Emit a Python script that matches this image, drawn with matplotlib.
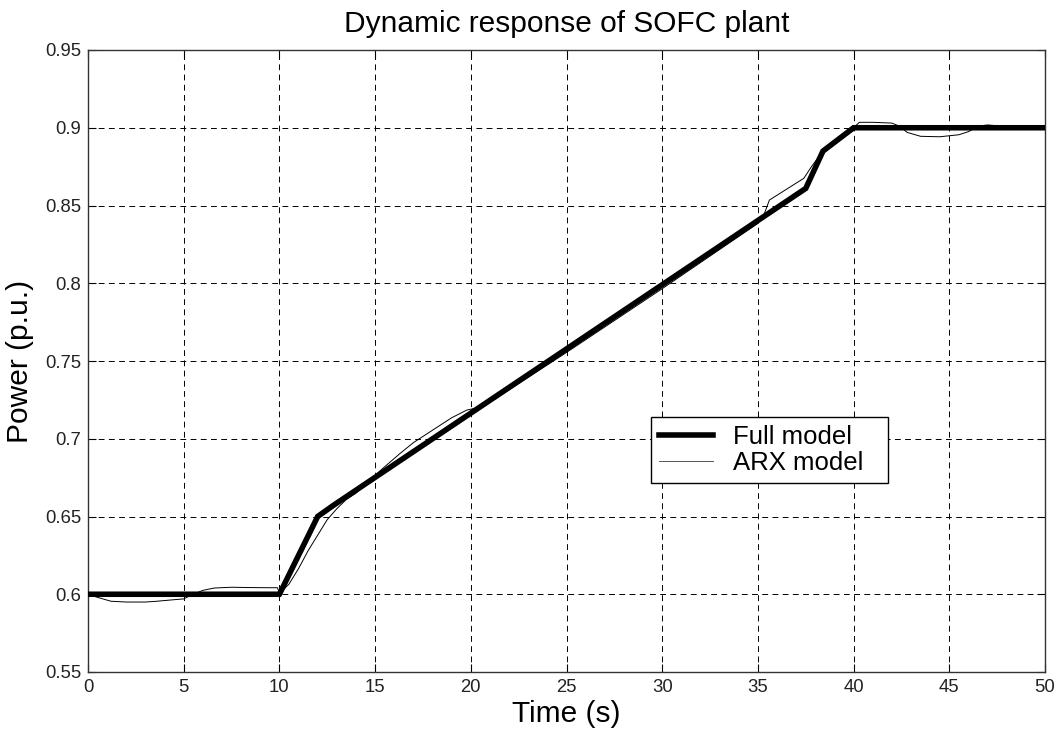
import matplotlib
matplotlib.use("Agg")
import matplotlib.pyplot as plt

plt.rcParams['font.family'] = ['Liberation Sans', 'DejaVu Sans']

# Full model (piecewise ramp)
full_t = [0, 10, 12, 12.8, 37.5, 38.4, 40, 50]
full_p = [0.6, 0.6, 0.65, 0.657, 0.861, 0.885, 0.9, 0.9]

# ARX model (identified response)
arx_t = [0, 0.5, 1.2, 2.0, 3.0, 3.6, 4.5, 5.0, 5.4, 6.0, 6.6, 7.5, 8.5, 9.5, 9.9, 10.0,
         10.5, 11.0, 11.5, 12.0, 12.5, 13.0, 13.5, 14.0, 15.0, 15.5, 16.3, 17.0, 18.0,
         19.0, 19.8, 20.6, 21.5, 25.0, 30.0, 35.0, 35.3, 35.6, 36.5, 37.4, 37.8, 38.4,
         40.0, 40.3, 41.0, 42.0, 42.4, 42.8, 43.5, 44.5, 45.5, 46.0, 46.3, 46.6, 47.0,
         47.3, 47.6, 50.0]
arx_p = [0.6, 0.598, 0.5955, 0.595, 0.595, 0.5955, 0.5965, 0.597, 0.5995, 0.6025, 0.604,
         0.6045, 0.6043, 0.6042, 0.6042, 0.6005,
         0.6065, 0.6165, 0.628, 0.638, 0.648, 0.655, 0.661, 0.665, 0.6765, 0.682,
         0.6905, 0.6975, 0.7055, 0.7135, 0.7185, 0.7205, 0.7275, 0.7555, 0.7965, 0.8385,
         0.8435, 0.8535, 0.8605, 0.8675, 0.875, 0.885,
         0.9, 0.9035, 0.9035, 0.903, 0.901, 0.897, 0.8945, 0.8942, 0.8955, 0.8975, 0.8995,
         0.9012, 0.9018, 0.9015, 0.9, 0.9]

x_ticks = [0, 5, 10, 15, 20, 25, 30, 35, 40, 45, 50]
y_ticks = [0.55, 0.6, 0.65, 0.7, 0.75, 0.8, 0.85, 0.9, 0.95]
y_tick_labels = ['0.55', '0.6', '0.65', '0.7', '0.75', '0.8', '0.85', '0.9', '0.95']

fig = plt.figure(figsize=(10.58, 7.38), dpi=100)
ax = fig.add_axes([88/1058, 66/738, (1045-88)/1058, (672-50)/738])

ax.plot(full_t, full_p, color='black', lw=4.0, solid_joinstyle='miter', label='Full model', zorder=3)
ax.plot(arx_t, arx_p, color='black', lw=0.7, label='ARX model', zorder=4)

ax.set_xlim(0, 50)
ax.set_ylim(0.55, 0.95)
ax.set_xticks(x_ticks)
ax.set_yticks(y_ticks)
ax.set_yticklabels(y_tick_labels)
ax.tick_params(direction='in', length=6, width=0.8, top=True, right=True,
               labelsize=13.3, pad=5, colors='black')
ax.tick_params(axis='y', labelcolor='#222222')
ax.tick_params(axis='x', labelcolor='#222222')

ax.grid(True, color='black', lw=0.7, linestyle=(0, (6, 4.5)))
for s in ax.spines.values():
    s.set_linewidth(1.0)
    s.set_color('#333333')

ax.set_title('Dynamic response of SOFC plant', fontsize=21.5, pad=13)
ax.set_xlabel('Time (s)', fontsize=21.5, labelpad=3)
ax.set_ylabel('Power (p.u.)', fontsize=21.5, labelpad=8)

lx0 = (651 - 88) / 957
lw_ = (888 - 651) / 957
ly1 = 1 - (417 - 50) / 622
lh = (483 - 417) / 622
leg = ax.legend(loc='upper left', bbox_to_anchor=(lx0, ly1 - lh, lw_, lh), mode='expand',
                fontsize=18.5, frameon=True, fancybox=False, edgecolor='black',
                framealpha=1, handlelength=2.1, borderpad=0.3, labelspacing=0.1,
                handletextpad=0.8, borderaxespad=0)
leg.get_frame().set_linewidth(1.0)
leg.get_lines()[1].set_color('#555555')

fig.savefig('out.png', dpi=100, facecolor='white')
